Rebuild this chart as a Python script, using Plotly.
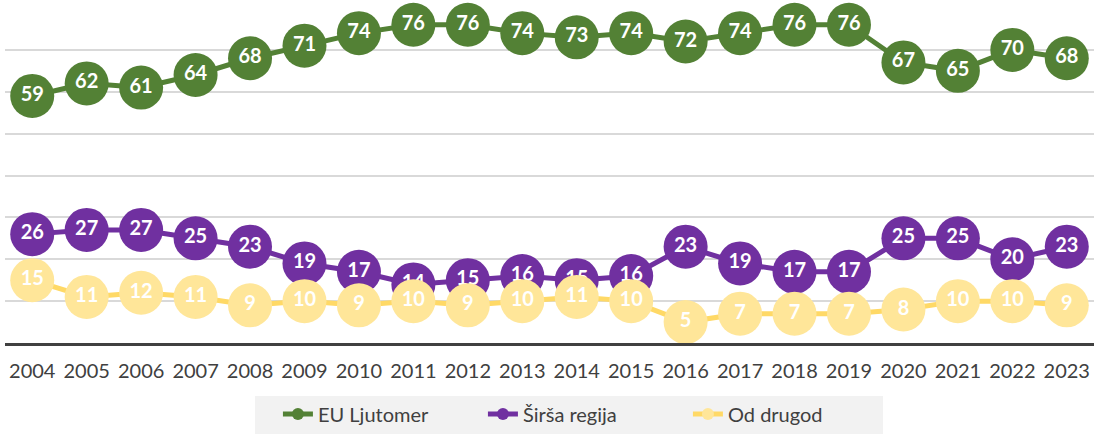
import plotly.graph_objects as go

years = [str(y) for y in range(2004, 2024)]
eu_ljutomer = [59, 62, 61, 64, 68, 71, 74, 76, 76, 74, 73, 74, 72, 74, 76, 76, 67, 65, 70, 68]
sirsa_regija = [26, 27, 27, 25, 23, 19, 17, 14, 15, 16, 15, 16, 23, 19, 17, 17, 25, 25, 20, 23]
od_drugod = [15, 11, 12, 11, 9, 10, 9, 10, 9, 10, 11, 10, 5, 7, 7, 7, 8, 10, 10, 9]

series = [
    ("EU Ljutomer", eu_ljutomer, "#538135", "#538135"),
    ("Širša regija", sirsa_regija, "#7030a0", "#7030a0"),
    ("Od drugod", od_drugod, "#ffd966", "#ffe699"),
]

fig = go.Figure()
for name, values, line_color, marker_color in series:
    fig.add_trace(
        go.Scatter(
            x=years,
            y=values,
            name=name,
            mode="lines+markers+text",
            text=[str(v) for v in values],
            textposition="middle center",
            textfont=dict(family="Lato", size=20, color="white", weight="bold"),
            line=dict(color=line_color, width=5),
            marker=dict(color=marker_color, size=44),
            cliponaxis=False,
        )
    )

fig.update_xaxes(
    type="category",
    range=[-0.5, 19.5],
    showline=True,
    linecolor="#404040",
    linewidth=3,
    showgrid=False,
    ticks="",
    ticklabelstandoff=8,
    tickfont=dict(family="Lato", size=20, color="#404040"),
)
fig.update_yaxes(
    range=[0, 80],
    dtick=10,
    showgrid=True,
    gridcolor="#d9d9d9",
    gridwidth=1.5,
    showticklabels=False,
    zeroline=False,
)

# grey legend panel
fig.add_shape(
    type="rect",
    xref="paper",
    yref="paper",
    x0=0.2296,
    x1=0.8062,
    y0=-0.28,
    y1=-0.158,
    fillcolor="#f2f2f2",
    line=dict(width=0),
    layer="below",
)

fig.update_layout(
    width=1094,
    height=434,
    margin=dict(l=5, r=0, t=8, b=91),
    paper_bgcolor="white",
    plot_bgcolor="white",
    legend=dict(
        orientation="h",
        x=0.533,
        xanchor="center",
        y=-0.212,
        yanchor="middle",
        bgcolor="rgba(0,0,0,0)",
        font=dict(family="Lato", size=20, color="#404040"),
        itemsizing="constant",
        entrywidth=160,
    ),
)

# drop the default page margin so the figure fills the window exactly
fig.write_html(
    "out.html",
    config={"displayModeBar": False},
    post_script="document.body.style.margin='0';document.body.style.overflow='hidden';",
)
